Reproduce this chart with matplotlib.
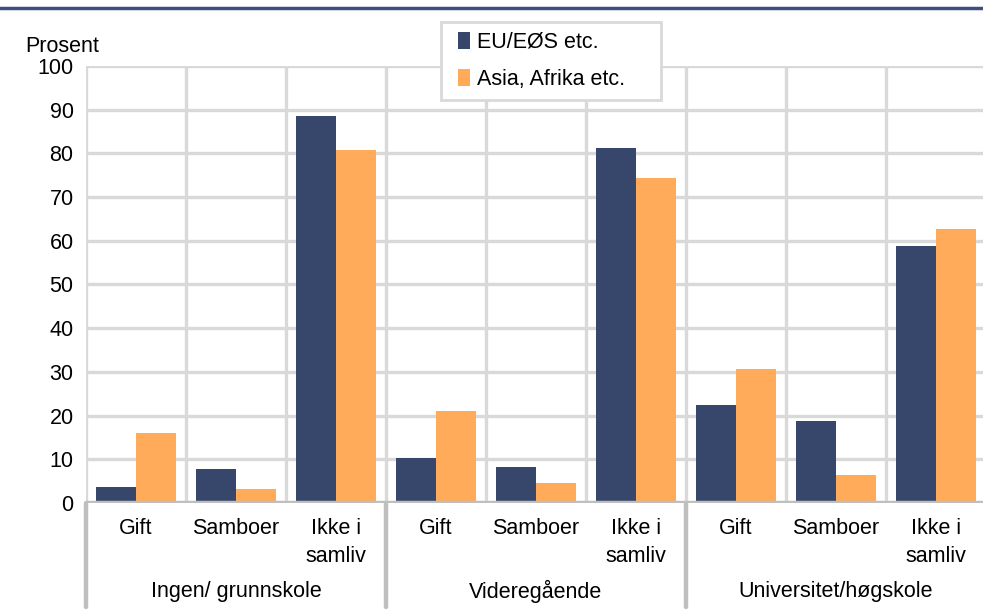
import matplotlib
matplotlib.use('Agg')
from matplotlib import pyplot
import matplotlib.transforms as mtransforms
import numpy

pyplot.rcParams['font.family'] = ['Liberation Sans', 'DejaVu Sans']

groups = ['Ingen/ grunnskole', 'Videregående', 'Universitet/høgskole']
categories = ['Gift', 'Samboer', 'Ikke i\nsamliv'] * 3
eu = [3.7, 7.8, 88.5, 10.3, 8.3, 81.2, 22.4, 18.7, 58.8]
asia = [16.1, 3.2, 80.7, 21.1, 4.5, 74.3, 30.6, 6.3, 62.6]
series_names = ['EU/EØS etc.', 'Asia, Afrika etc.']

navy = '#36476b'
orange = '#ffab5a'
grid_c = '#d9d9d9'
axis_c = '#bfbfbf'
fs = 15.5

fig = pyplot.figure(figsize=(9.83, 6.16), dpi=100)
ax = fig.add_axes([0.0875, 0.1834, 0.9155, 0.7095])

x = numpy.arange(len(categories))
w = 0.4
b1 = ax.bar(x - w / 2, eu, w, color=navy, zorder=3)
b2 = ax.bar(x + w / 2, asia, w, color=orange, zorder=3)

ax.set_xlim(-0.5, len(categories) - 0.5)
ax.set_ylim(0, 100)
ax.set_yticks(range(0, 101, 10))
ax.tick_params(axis='y', length=0, labelsize=fs, pad=9)
ax.set_xticks(x)
ax.set_xticklabels(categories, fontsize=fs, linespacing=1.4, va='top')
ax.tick_params(axis='x', length=0, pad=11)

# grid
for yv in range(10, 101, 10):
    ax.axhline(yv, color=grid_c, lw=2.4, zorder=1)
for xv in numpy.arange(-0.5, len(categories), 1.0):
    ax.axvline(xv, color=grid_c, lw=2.4, zorder=1)
ax.axhline(0, color=axis_c, lw=3.2, zorder=4)

for s in ax.spines.values():
    s.set_visible(False)

# group separators and labels below the axis
trans = mtransforms.blended_transform_factory(ax.transData, ax.transAxes)
for xv in [-0.5, 2.5, 5.5, 8.5]:
    ax.plot([xv, xv], [0, -0.238], color=axis_c, lw=3.2, transform=trans,
            clip_on=False, solid_capstyle='round', zorder=4)
for i, g in enumerate(groups):
    ax.text(3 * i + 1, -0.203, g, transform=trans, ha='center', va='center', fontsize=fs)

fig.text(25 / 983, 1 - 46 / 616, 'Prosent', fontsize=fs, va='center', ha='left')

# top rule
fig.add_artist(pyplot.Line2D([0, 1], [1 - 8 / 616, 1 - 8 / 616], color='#3c5080', lw=2.5))

# legend box drawn separately, legend itself without frame
box = pyplot.Rectangle((441 / 983, 1 - 100 / 616), 220 / 983, 78 / 616,
                       transform=fig.transFigure, facecolor='white',
                       edgecolor=grid_c, lw=2, zorder=9)
fig.add_artist(box)
leg = fig.legend([b1, b2], series_names, loc='center left',
                 bbox_to_anchor=(458 / 983, 1 - 61 / 616),
                 bbox_transform=fig.transFigure, fontsize=fs, frameon=False,
                 handlelength=0.55, handleheight=0.8, handletextpad=0.35,
                 borderpad=0, labelspacing=0.75, borderaxespad=0)
leg.set_zorder(10)

fig.savefig('out.png')
